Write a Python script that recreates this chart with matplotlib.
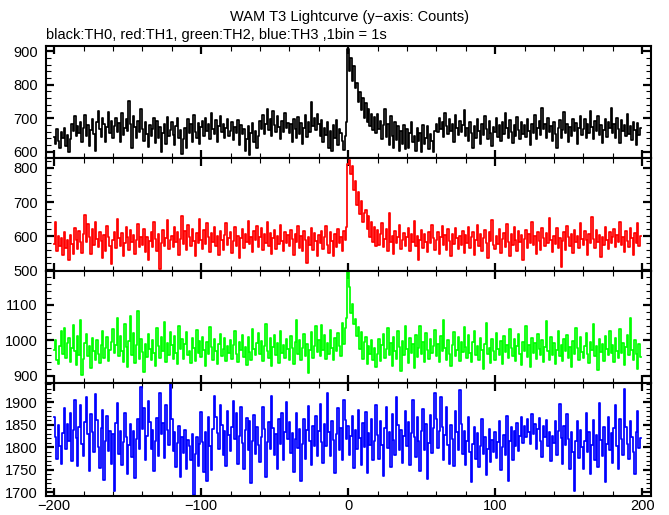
import numpy as np
import matplotlib.pyplot as plt
from matplotlib.ticker import MultipleLocator

# Time bins (1 s) from -200 to 199
time_s = np.arange(-200, 200)

# TH0 counts (black)
th0 = [
    645, 622, 668, 631, 612, 659, 640, 672, 618, 651, 600, 637, 683, 662, 705, 648, 676, 655, 690, 629,
    672, 710, 648, 681, 616, 664, 697, 652, 603, 688, 721, 667, 645, 702, 684, 630, 673, 718, 656, 692,
    641, 678, 702, 660, 687, 629, 714, 650, 671, 698, 663, 752, 684, 612, 706, 675, 640, 693, 658, 726,
    669, 633, 690, 654, 615, 681, 648, 667, 701, 627, 692, 640, 674, 598, 656, 684, 622, 703, 646, 665,
    688, 650, 619, 677, 700, 642, 665, 594, 638, 671, 612, 697, 655, 682, 630, 708, 659, 641, 686, 624,
    673, 692, 648, 700, 661, 683, 637, 715, 668, 652, 694, 629, 676, 705, 658, 684, 640, 670, 698, 646,
    662, 689, 634, 673, 657, 696, 621, 680, 652, 668, 602, 639, 676, 590, 655, 686, 630, 662, 611, 648,
    691, 667, 708, 653, 684, 726, 665, 699, 646, 720, 681, 660, 705, 674, 639, 692, 658, 716, 670, 687,
    655, 682, 629, 698, 667, 640, 703, 652, 686, 624, 671, 709, 645, 690, 660, 747, 677, 700, 664, 712,
    683, 646, 694, 628, 670, 651, 688, 610, 662, 601, 679, 640, 695, 619, 668, 656, 632, 604, 648, 690,
    906, 842, 880, 812, 856, 790, 805, 748, 779, 724, 760, 701, 745, 690, 728, 676, 712, 664, 703, 655,
    711, 668, 692, 638, 680, 728, 644, 683, 621, 705, 648, 612, 690, 635, 676, 603, 662, 623, 681, 607,
    668, 612, 655, 690, 628, 647, 602, 672, 631, 655, 598, 681, 622, 640, 676, 609, 652, 633, 600, 661,
    684, 658, 702, 667, 690, 645, 715, 676, 653, 697, 661, 684, 630, 708, 672, 649, 693, 660, 681, 724,
    646, 671, 633, 689, 657, 612, 676, 640, 698, 663, 622, 684, 651, 707, 668, 639, 692, 655, 618, 673,
    660, 701, 645, 679, 631, 688, 652, 716, 670, 642, 694, 659, 625, 681, 648, 703, 666, 637, 690, 654,
    679, 643, 697, 661, 620, 684, 655, 709, 638, 672, 693, 650, 729, 667, 684, 642, 701, 658, 676, 633,
    689, 652, 611, 670, 694, 640, 665, 719, 657, 682, 628, 675, 646, 698, 661, 686, 623, 671, 705, 649,
    668, 697, 641, 684, 656, 720, 673, 638, 691, 662, 706, 650, 680, 627, 664, 699, 645, 688, 672, 731,
    657, 683, 640, 702, 669, 627, 695, 661, 680, 646, 713, 652, 676, 634, 690, 664, 620, 685, 650, 671,
]

# TH1 counts (red)
th1 = [
    578, 640, 556, 601, 572, 593, 545, 612, 566, 589, 531, 604, 577, 548, 623, 590, 562, 615, 584, 550,
    607, 661, 582, 636, 598, 547, 620, 574, 642, 592, 568, 613, 585, 535, 603, 556, 629, 596, 571, 518,
    588, 612, 566, 650, 594, 572, 609, 543, 581, 626, 597, 559, 617, 583, 604, 548, 590, 635, 567, 598,
    574, 620, 553, 596, 529, 585, 611, 568, 640, 592, 556, 607, 504, 580, 618, 571, 594, 646, 563, 589,
    601, 567, 628, 583, 612, 545, 592, 660, 576, 614, 558, 633, 597, 570, 622, 586, 541, 608, 579, 650,
    590, 563, 617, 578, 638, 596, 552, 610, 584, 626, 571, 599, 545, 616, 588, 560, 603, 639, 574, 595,
    612, 549, 586, 627, 570, 601, 536, 593, 620, 565, 607, 582, 644, 576, 598, 553, 615, 589, 631, 568,
    597, 624, 560, 605, 581, 642, 572, 609, 548, 594, 617, 563, 601, 578, 632, 587, 555, 612, 580, 603,
    571, 618, 592, 544, 606, 583, 629, 566, 600, 557, 614, 589, 521, 597, 575, 623, 560, 608, 586, 541,
    603, 579, 616, 562, 597, 631, 574, 550, 611, 586, 542, 605, 569, 621, 580, 596, 555, 614, 590, 628,
    812, 824, 781, 806, 735, 762, 690, 730, 664, 702, 640, 668, 676, 621, 658, 598, 640, 583, 627, 570,
    618, 574, 605, 637, 568, 592, 620, 556, 668, 583, 601, 547, 615, 579, 596, 632, 562, 588, 610, 571,
    598, 624, 555, 607, 582, 643, 570, 601, 531, 590, 618, 566, 605, 583, 552, 611, 579, 634, 593, 560,
    589, 612, 547, 596, 630, 574, 603, 558, 620, 585, 541, 607, 578, 625, 594, 562, 600, 573, 616, 550,
    604, 581, 627, 566, 598, 612, 545, 589, 633, 572, 607, 556, 594, 618, 580, 536, 611, 587, 646, 575,
    563, 600, 578, 621, 551, 592, 610, 569, 636, 584, 543, 606, 575, 628, 590, 557, 614, 582, 602, 529,
    592, 617, 566, 605, 581, 642, 573, 599, 548, 613, 586, 560, 624, 595, 571, 608, 579, 652, 588, 554,
    601, 577, 623, 565, 594, 510, 586, 612, 558, 631, 597, 572, 606, 549, 618, 583, 600, 564, 637, 591,
    573, 615, 589, 545, 606, 580, 655, 592, 566, 619, 584, 603, 538, 597, 574, 626, 588, 561, 611, 579,
    596, 620, 567, 604, 582, 641, 575, 598, 553, 616, 587, 569, 625, 594, 545, 608, 580, 637, 572, 599,
]

# TH2 counts (green)
th2 = [
    972, 1001, 946, 935, 985, 1026, 963, 1034, 951, 992, 1008, 940, 978, 1043, 969, 931, 1012, 960, 1059, 903,
    948, 994, 1019, 957, 983, 922, 1006, 971, 945, 1002, 963, 936, 988, 1027, 952, 979, 1010, 941, 973, 996,
    1031, 964, 987, 1062, 955, 1013, 970, 938, 1046, 982, 925, 999, 1068, 958, 1021, 936, 986, 1084, 947, 1005,
    968, 912, 990, 953, 1017, 977, 944, 1001, 966, 929, 1035, 983, 952, 1009, 971, 1052, 940, 994, 960, 1023,
    986, 948, 1012, 964, 933, 1041, 975, 1003, 949, 989, 1024, 958, 971, 936, 1006, 980, 943, 1029, 965, 998,
    954, 1011, 973, 928, 995, 962, 1037, 981, 946, 1004, 969, 935, 991, 1019, 957, 976, 1008, 942, 983, 964,
    1000, 947, 986, 1026, 961, 939, 997, 974, 1015, 953, 982, 931, 1009, 968, 944, 1033, 977, 958, 992, 1021,
    963, 998, 941, 984, 1045, 970, 952, 1007, 927, 981, 1014, 959, 993, 937, 1028, 966, 988, 950, 1003, 975,
    946, 1012, 980, 934, 995, 1057, 961, 1002, 944, 978, 1019, 956, 990, 909, 972, 1025, 951, 985, 1040, 968,
    1001, 957, 1043, 974, 1016, 948, 993, 962, 1030, 979, 944, 1008, 969, 1022, 985, 955, 1048, 990, 1035, 1064,
    1196, 1152, 1078, 1103, 1045, 1061, 1012, 1038, 975, 1024, 948, 997, 1009, 933, 984, 961, 1002, 944, 978, 926,
    963, 1005, 941, 988, 1018, 952, 975, 1036, 960, 993, 929, 1011, 970, 947, 1027, 982, 915, 998, 958, 1041,
    976, 937, 1006, 964, 989, 922, 1015, 953, 980, 1042, 961, 996, 938, 1021, 972, 949, 1003, 966, 984, 1030,
    957, 991, 940, 1012, 969, 1058, 978, 946, 1001, 963, 929, 987, 1024, 955, 974, 1009, 943, 995, 968, 1037,
    981, 951, 1016, 965, 938, 997, 1026, 960, 983, 944, 1008, 972, 919, 990, 1049, 962, 978, 936, 1004, 970,
    945, 1020, 975, 958, 999, 934, 1013, 967, 988, 950, 1032, 979, 956, 1003, 941, 984, 1017, 963, 930, 996,
    971, 1040, 953, 986, 924, 1007, 966, 992, 947, 1019, 977, 958, 1001, 938, 982, 1054, 969, 946, 1011, 960,
    993, 935, 974, 1028, 957, 988, 941, 1005, 970, 1016, 952, 981, 926, 998, 963, 1034, 979, 944, 1010, 967,
    950, 985, 1022, 961, 937, 996, 972, 1045, 955, 983, 918, 1004, 968, 991, 942, 1013, 976, 959, 1027, 964,
    987, 939, 1008, 971, 952, 1031, 966, 994, 930, 982, 1015, 958, 1062, 973, 945, 1001, 962, 921, 990, 954,
]

# TH3 counts (blue)
th3 = [
    1867, 1823, 1775, 1849, 1802, 1763, 1831, 1888, 1796, 1852, 1814, 1877, 1769, 1839, 1905, 1821, 1758, 1846, 1893, 1808,
    1781, 1856, 1912, 1829, 1747, 1873, 1835, 1790, 1918, 1860, 1801, 1754, 1842, 1884, 1727, 1815, 1869, 1792, 1837, 1763,
    1829, 1702, 1853, 1898, 1785, 1836, 1760, 1812, 1876, 1823, 1741, 1805, 1851, 1779, 1837, 1732, 1818, 1863, 1796, 1933,
    1840, 1887, 1771, 1825, 1902, 1857, 1796, 1838, 1748, 1813, 1866, 1780, 1921, 1829, 1854, 1776, 1893, 1838, 1805, 1940,
    1862, 1791, 1833, 1756, 1810, 1848, 1735, 1824, 1787, 1839, 1752, 1816, 1803, 1772, 1830, 1694, 1785, 1822, 1758, 1807,
    1878, 1811, 1746, 1833, 1725, 1868, 1802, 1750, 1841, 1913, 1867, 1832, 1796, 1895, 1850, 1783, 1836, 1759, 1880, 1827,
    1792, 1845, 1904, 1818, 1877, 1763, 1826, 1889, 1809, 1751, 1838, 1866, 1794, 1858, 1720, 1813, 1871, 1786, 1846, 1805,
    1768, 1824, 1889, 1840, 1735, 1811, 1856, 1797, 1915, 1842, 1784, 1829, 1752, 1863, 1808, 1876, 1771, 1834, 1901, 1819,
    1856, 1787, 1832, 1745, 1819, 1876, 1798, 1841, 1726, 1807, 1864, 1773, 1838, 1891, 1815, 1760, 1847, 1803, 1869, 1781,
    1837, 1896, 1812, 1765, 1851, 1803, 1920, 1834, 1780, 1858, 1816, 1742, 1829, 1887, 1795, 1843, 1771, 1905, 1860, 1818,
    1847, 1782, 1826, 1869, 1754, 1838, 1796, 1884, 1820, 1760, 1853, 1801, 1878, 1743, 1831, 1806, 1862, 1772, 1815, 1894,
    1828, 1773, 1859, 1806, 1737, 1842, 1889, 1798, 1835, 1756, 1874, 1817, 1784, 1912, 1850, 1793, 1838, 1765, 1826, 1880,
    1803, 1856, 1760, 1832, 1906, 1822, 1779, 1868, 1815, 1748, 1837, 1885, 1794, 1852, 1729, 1810, 1871, 1788, 1843, 1921,
    1864, 1799, 1836, 1912, 1845, 1771, 1828, 1890, 1805, 1762, 1849, 1819, 1758, 1880, 1833, 1795, 1928, 1852, 1786, 1837,
    1761, 1814, 1868, 1790, 1722, 1808, 1846, 1773, 1831, 1757, 1803, 1862, 1785, 1824, 1739, 1797, 1841, 1768, 1816, 1789,
    1834, 1776, 1812, 1858, 1749, 1801, 1827, 1782, 1869, 1725, 1813, 1846, 1772, 1837, 1803, 1855, 1791, 1826, 1868, 1810,
    1847, 1823, 1862, 1835, 1808, 1873, 1829, 1851, 1796, 1840, 1866, 1815, 1779, 1848, 1822, 1860, 1804, 1833, 1769, 1826,
    1810, 1859, 1783, 1836, 1896, 1821, 1762, 1847, 1805, 1873, 1818, 1751, 1833, 1790, 1702, 1814, 1858, 1777, 1839, 1800,
    1752, 1813, 1876, 1789, 1834, 1740, 1806, 1861, 1772, 1828, 1757, 1899, 1816, 1781, 1845, 1723, 1807, 1868, 1794, 1831,
    1766, 1842, 1895, 1803, 1751, 1862, 1819, 1784, 1930, 1846, 1808, 1773, 1858, 1824, 1790, 1741, 1835, 1880, 1799, 1821,
]

series = [th0, th1, th2, th3]
colors = ["black", "#ff0000", "#00ff00", "#0000ff"]
ylims = [(580, 916), (498, 828), (879, 1196), (1692, 1942)]
ymajor = [100, 100, 100, 50]
yminor = [20, 20, 20, 10]

plt.rcParams["font.family"] = ["Liberation Sans", "DejaVu Sans"]
plt.rcParams["font.size"] = 10.5

fig, axes = plt.subplots(4, 1, sharex=True, figsize=(6.69, 5.15), dpi=100)
fig.subplots_adjust(left=0.069, right=0.973, top=0.911, bottom=0.037, hspace=0)

for ax, y, c, lim, maj, mnr in zip(axes, series, colors, ylims, ymajor, yminor):
    ax.plot(time_s, y, color=c, lw=1.25, drawstyle="steps-mid")
    ax.set_ylim(*lim)
    ax.set_xlim(-205.5, 206)
    ax.yaxis.set_major_locator(MultipleLocator(maj))
    ax.yaxis.set_minor_locator(MultipleLocator(mnr))
    ax.xaxis.set_major_locator(MultipleLocator(100))
    ax.xaxis.set_minor_locator(MultipleLocator(20))
    ax.tick_params(which="both", direction="in", top=True, right=True)
    ax.tick_params(which="major", length=6, width=1.6, pad=6)
    ax.tick_params(which="minor", length=3.5, width=0.8)
    ax.tick_params(axis="x", which="major", pad=2)
    for s in ax.spines.values():
        s.set_linewidth(1.5)

axes[-1].set_xticks([-200, -100, 0, 100, 200])
axes[-1].set_xticklabels(["\u2212200", "\u2212100", "0", "100", "200"])

fig.text(0.523, 0.967, "WAM T3 Lightcurve (y\u2212axis: Counts)", ha="center", va="center")
fig.text(0.069, 0.932, "black:TH0, red:TH1, green:TH2, blue:TH3 ,1bin = 1s", ha="left", va="center")

fig.savefig("out.png", dpi=100)
